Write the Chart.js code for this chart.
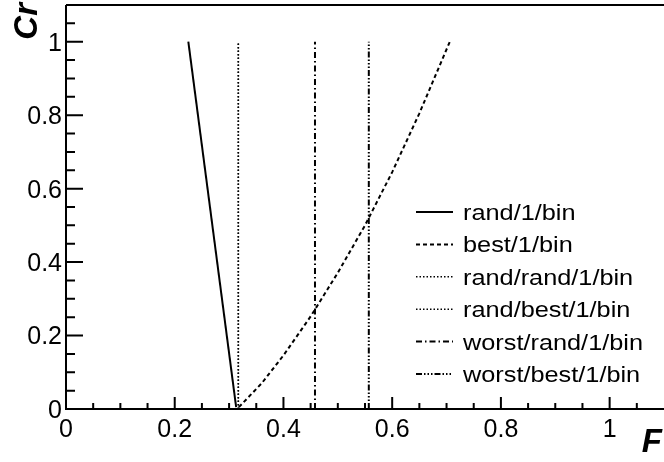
<!DOCTYPE html>
<html>
<head>
<meta charset="utf-8">
<script src="https://cdn.jsdelivr.net/npm/chart.js@4"></script>
<style>
  html, body { margin: 0; padding: 0; background: #fff; }
  #wrap { width: 664px; height: 462px; }
</style>
</head>
<body>
<div id="wrap"><canvas id="cr-chart" width="664" height="462"></canvas></div>
<script>
// series names as in the legend
const seriesNames = ['rand/1/bin', 'best/1/bin', 'rand/rand/1/bin', 'rand/best/1/bin', 'worst/rand/1/bin', 'worst/best/1/bin'];

// F values (x) and Cr values (y)
const randF = [0.225, 0.313];
const randCr = [1.0, 0.005];
const bestF = [0.318, 0.36, 0.40, 0.45, 0.50, 0.55, 0.60, 0.65, 0.706];
const bestCr = [0.005, 0.07, 0.146, 0.252, 0.371, 0.50, 0.645, 0.805, 1.0];
const randRandF = [0.317, 0.317];
const randRandCr = [0.0, 1.0];
const randBestF = [0.317, 0.317];
const randBestCr = [0.0, 1.0];
const worstRandF = [0.458, 0.458];
const worstRandCr = [0.0, 1.0];
const worstBestF = [0.557, 0.557];
const worstBestCr = [0.0, 1.0];

const xTicks = [0, 0.2, 0.4, 0.6, 0.8, 1];
const yTicks = [0, 0.2, 0.4, 0.6, 0.8, 1];
const xTickLabels = ['0', '0.2', '0.4', '0.6', '0.8', '1'];
const yTickLabels = ['0', '0.2', '0.4', '0.6', '0.8', '1'];

const toPoints = (xs, ys) => xs.map((v, i) => ({ x: v, y: ys[i] }));

const lineStyles = [
  { dash: [], width: 2 },
  { dash: [4, 3], width: 2 },
  { dash: [1.5, 2], width: 1.5 },
  { dash: [1.5, 2], width: 1.5 },
  { dash: [6, 3, 1.5, 3], width: 2 },
  { dash: [6, 2, 1.5, 2, 1.5, 2, 1.5, 2], width: 2 },
];

const seriesData = [
  toPoints(randF, randCr),
  toPoints(bestF, bestCr),
  toPoints(randRandF, randRandCr),
  toPoints(randBestF, randBestCr),
  toPoints(worstRandF, worstRandCr),
  toPoints(worstBestF, worstBestCr),
];

const datasets = seriesNames.map((name, i) => ({
  label: name,
  data: seriesData[i],
  showLine: true,
  borderColor: '#000',
  borderWidth: lineStyles[i].width,
  borderDash: lineStyles[i].dash,
  pointRadius: 0,
  fill: false,
}));

const tickFont = '25px "Liberation Sans", Arial, sans-serif';
const titleFont = 'italic bold 33px "Liberation Sans", Arial, sans-serif';
const legendFont = '22px "Liberation Sans", Arial, sans-serif';

// draws the ROOT style frame, ticks, labels and legend
const rootFrame = {
  id: 'rootFrame',
  afterDatasetsDraw(chart) {
    const { ctx, chartArea: a, scales: { x, y } } = chart;
    ctx.save();
    ctx.strokeStyle = '#000';
    ctx.fillStyle = '#000';
    ctx.lineWidth = 2;
    ctx.setLineDash([]);

    ctx.beginPath();
    ctx.moveTo(a.left, a.top);
    ctx.lineTo(a.left, a.bottom);
    ctx.lineTo(a.right, a.bottom);
    ctx.moveTo(a.left, a.top);
    ctx.lineTo(a.right, a.top);
    ctx.stroke();

    // major ticks every 0.2, minor every 0.05
    ctx.beginPath();
    for (let i = 0; i <= 21; i++) {
      const v = i * 0.05;
      const major = i % 4 === 0;
      const px = x.getPixelForValue(v);
      if (px < a.right - 1) {
        ctx.moveTo(px, a.bottom);
        ctx.lineTo(px, a.bottom - (major ? 12 : 6));
      }
      const py = y.getPixelForValue(v);
      if (py > a.top + 1) {
        ctx.moveTo(a.left, py);
        ctx.lineTo(a.left + (major ? 17 : 9), py);
      }
    }
    ctx.stroke();

    ctx.font = tickFont;
    ctx.textAlign = 'center';
    ctx.textBaseline = 'alphabetic';
    xTicks.forEach((v, i) => {
      ctx.fillText(xTickLabels[i], x.getPixelForValue(v), a.bottom + 28);
    });
    ctx.textAlign = 'right';
    ctx.textBaseline = 'middle';
    yTicks.forEach((v, i) => {
      ctx.fillText(yTickLabels[i], a.left - 4, y.getPixelForValue(v) + 2);
    });

    // axis titles
    ctx.font = titleFont;
    ctx.textAlign = 'right';
    ctx.textBaseline = 'alphabetic';
    ctx.fillText('F', 662, 452);
    ctx.save();
    ctx.translate(37, 3);
    ctx.rotate(-Math.PI / 2);
    ctx.fillText('Cr', 0, 0);
    ctx.restore();

    // legend, no border
    ctx.font = legendFont;
    ctx.textAlign = 'left';
    chart.data.datasets.forEach((ds, i) => {
      const base = 220 + i * 32.4;
      ctx.save();
      ctx.lineWidth = ds.borderWidth;
      ctx.setLineDash(ds.borderDash);
      ctx.beginPath();
      ctx.moveTo(416, base - 8);
      ctx.lineTo(453, base - 8);
      ctx.stroke();
      ctx.restore();
      ctx.save();
      ctx.translate(463, base);
      ctx.scale(1.15, 1);
      ctx.fillText(ds.label, 0, 0);
      ctx.restore();
    });

    ctx.restore();
  }
};

new Chart(document.getElementById('cr-chart'), {
  type: 'scatter',
  data: { datasets },
  options: {
    responsive: false,
    animation: false,
    layout: { padding: { left: 66, top: 5, right: 0, bottom: 53 } },
    plugins: { legend: { display: false }, tooltip: { enabled: false } },
    scales: {
      x: { type: 'linear', min: 0, max: 1.1, display: false },
      y: { type: 'linear', min: 0, max: 1.1, display: false },
    },
  },
  plugins: [rootFrame],
});
</script>
</body>
</html>
